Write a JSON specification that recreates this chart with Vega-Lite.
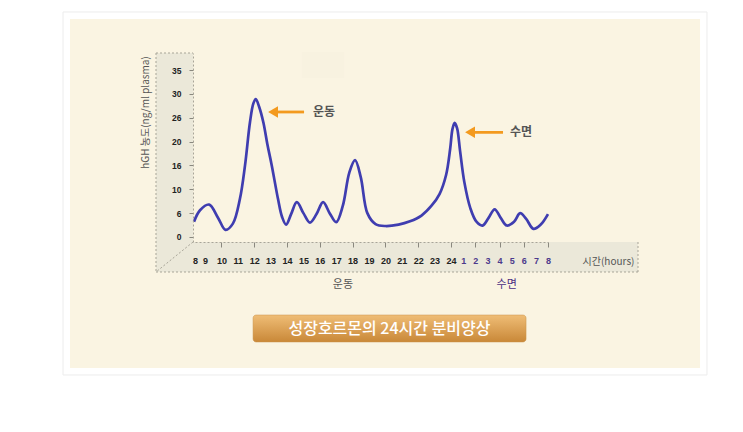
{
  "$schema": "https://vega.github.io/schema/vega-lite/v6.json",
  "width": 445,
  "height": 189,
  "autosize": {"type": "none"},
  "padding": {"left": 193, "top": 53, "right": 105, "bottom": 190},
  "background": "white",
  "config": {"view": {"stroke": null}, "font": "Noto Sans CJK KR"},
  "datasets": {
    "bg": [{"h": -5.2, "h2": 45.11, "v": 47.16, "v2": -28.92}],
    "panel": [{"h": -4.5, "h2": 44.54, "v": 45.69, "v2": -27.46}],
    "faint": [{"h": 14.91, "h2": 17.48, "v": 38.77, "v2": 33.32}],
    "panes": [
      {"h": 4.1, "h2": 7.8, "v": 38.563, "v2": -7.335},
      {"h": 7.8, "h2": 39.423, "v": -1.048, "v2": -7.335}
    ],
    "frame": [
      {"h": 4.1, "h2": 4.1, "v": 38.563, "v2": -7.335},
      {"h": 4.1, "h2": 7.8, "v": 38.563, "v2": 38.563},
      {"h": 4.1, "h2": 39.423, "v": -7.335, "v2": -7.335},
      {"h": 39.423, "h2": 39.423, "v": -1.048, "v2": -7.335},
      {"h": 7.8, "h2": 4.1, "v": -1.048, "v2": -7.335}
    ],
    "curve": [
      {"h": 7.9, "v": 3.2}, {"h": 8.5, "v": 5.6}, {"h": 9.25, "v": 6.8}, {"h": 9.8, "v": 4.0},
      {"h": 10.25, "v": 1.5}, {"h": 10.7, "v": 2.8}, {"h": 11.13, "v": 8.0}, {"h": 11.44, "v": 15.0},
      {"h": 11.74, "v": 24.0}, {"h": 11.95, "v": 28.0}, {"h": 12.1, "v": 28.9}, {"h": 12.3, "v": 27.3},
      {"h": 12.56, "v": 24.0}, {"h": 12.8, "v": 19.5}, {"h": 13.07, "v": 15.0}, {"h": 13.45, "v": 8.0},
      {"h": 13.7, "v": 4.2}, {"h": 13.95, "v": 2.6}, {"h": 14.25, "v": 4.8},
      {"h": 14.6, "v": 7.3}, {"h": 15.0, "v": 5.0}, {"h": 15.4, "v": 3.0}, {"h": 15.8, "v": 4.8},
      {"h": 16.2, "v": 7.3}, {"h": 16.6, "v": 5.0}, {"h": 17.0, "v": 3.1}, {"h": 17.4, "v": 6.5},
      {"h": 17.8, "v": 13.5}, {"h": 18.15, "v": 16.1}, {"h": 18.5, "v": 12.5}, {"h": 18.9, "v": 5.0},
      {"h": 19.4, "v": 2.7}, {"h": 20.0, "v": 2.3}, {"h": 20.8, "v": 2.6}, {"h": 21.5, "v": 3.3},
      {"h": 22.2, "v": 4.5}, {"h": 22.8, "v": 6.5}, {"h": 23.3, "v": 9.0}, {"h": 23.7, "v": 13.0},
      {"h": 23.95, "v": 18.5}, {"h": 24.12, "v": 22.6}, {"h": 24.3, "v": 23.9}, {"h": 24.5, "v": 22.8},
      {"h": 24.75, "v": 18.0}, {"h": 25.1, "v": 11.5},
      {"h": 25.6, "v": 6.0}, {"h": 26.1, "v": 3.2}, {"h": 26.6, "v": 2.4}, {"h": 27.1, "v": 4.0},
      {"h": 27.6, "v": 5.8}, {"h": 28.1, "v": 4.0}, {"h": 28.6, "v": 2.4}, {"h": 29.2, "v": 3.2},
      {"h": 29.7, "v": 5.0}, {"h": 30.2, "v": 3.8}, {"h": 30.8, "v": 1.7}, {"h": 31.4, "v": 2.6},
      {"h": 32.0, "v": 4.8}
    ],
    "arrows": [
      {"h": 13.15, "h2": 15.04, "v": 26.2, "v2": 26.2, "t": 15.59, "label": "운동"},
      {"h": 25.57, "h2": 28.29, "v": 21.94, "v2": 21.94, "t": 28.87, "label": "수면"}
    ],
    "below": [
      {"h": 17.41, "v": -10.06, "label": "운동", "kind": "ex"},
      {"h": 28.59, "v": -10.06, "label": "수면", "kind": "sleep"}
    ],
    "button": [{"h": 11.93, "h2": 30.19, "v": -16.35, "v2": -22.0, "c": 20.25, "m": -19.2, "label": "성장호르몬의 24시간 분비양상"}]
  },
  "encoding": {
    "x": {
      "field": "h",
      "type": "quantitative",
      "scale": {"domain": [8, 9, 24, 32], "range": [2, 12, 258, 355], "nice": false, "zero": false},
      "axis": {
        "values": [8, 9, 10, 11, 12, 13, 14, 15, 16, 17, 18, 19, 20, 21, 22, 23, 24, 25, 26, 27, 28, 29, 30, 31, 32],
        "labelExpr": "'' + (datum.value > 24 ? datum.value - 24 : datum.value)",
        "labelColor": {"condition": {"test": "datum.value > 24", "value": "#4b3a8c"}, "value": "#222222"},
        "tickOpacity": {"condition": {"test": "datum.value >= 10 && datum.value % 2 == 0", "value": 1}, "value": 0},
        "labelFont": "Liberation Sans",
        "labelFontWeight": "bold",
        "labelFontSize": 9,
        "labelPadding": 9,
        "labelFlush": false,
        "labelBound": false,
        "labelOverlap": false,
        "tickSize": 5,
        "tickColor": "#8a887e",
        "domainColor": "#a8a598",
        "domainDash": [2, 2],
        "grid": false,
        "zindex": 1,
        "title": "시간(hours)",
        "titleX": 415,
        "titleY": 19,
        "titleAlign": "center",
        "titleBaseline": "middle",
        "titleAngle": 0,
        "titleFontWeight": "normal",
        "titleFontSize": 10,
        "titleColor": "#555555",
        "titleFont": "Noto Sans CJK KR"
      }
    },
    "y": {
      "field": "v",
      "type": "quantitative",
      "scale": {"domain": [-1.048, 38.563], "nice": false, "zero": false},
      "axis": {
        "values": [0, 5, 10, 15, 20, 25, 30, 35],
        "labelExpr": "datum.value == 5 ? '6' : datum.value == 15 ? '16' : datum.value == 25 ? '26' : datum.label",
        "labelFont": "Liberation Sans",
        "labelFontWeight": "bold",
        "labelFontSize": 8.5,
        "labelColor": "#222222",
        "labelPadding": 8,
        "labelFlush": false,
        "labelBound": false,
        "tickSize": 4,
        "tickColor": "#8a887e",
        "domainColor": "#a8a598",
        "domainDash": [2, 2],
        "grid": false,
        "zindex": 1,
        "title": "hGH 농도(ng/ml plasma)",
        "titleX": -48,
        "titleY": 59,
        "titleAngle": -90,
        "titleAlign": "center",
        "titleBaseline": "middle",
        "titleFontWeight": "normal",
        "titleFontSize": 10,
        "titleColor": "#555555",
        "titleFont": "Noto Sans CJK KR"
      }
    }
  },
  "layer": [
    {"data": {"name": "bg"}, "mark": {"type": "rect", "fill": "#ffffff", "stroke": "#ececec", "strokeWidth": 1}, "encoding": {"x2": {"field": "h2"}, "y2": {"field": "v2"}}},
    {"data": {"name": "panel"}, "mark": {"type": "rect", "fill": "#faf4e2"}, "encoding": {"x2": {"field": "h2"}, "y2": {"field": "v2"}}},
    {"data": {"name": "faint"}, "mark": {"type": "rect", "fill": "#f8f2e0"}, "encoding": {"x2": {"field": "h2"}, "y2": {"field": "v2"}}},
    {"data": {"name": "panes"}, "mark": {"type": "rect", "fill": "#ebe8d9"}, "encoding": {"x2": {"field": "h2"}, "y2": {"field": "v2"}}},
    {"data": {"name": "frame"}, "mark": {"type": "rule", "stroke": "#a8a598", "strokeWidth": 1, "strokeDash": [2, 2]}, "encoding": {"x2": {"field": "h2"}, "y2": {"field": "v2"}}},
    {"data": {"name": "curve"}, "mark": {"type": "line", "interpolate": "catmull-rom", "stroke": "#3f3db0", "strokeWidth": 2.7}},
    {"data": {"name": "arrows"}, "mark": {"type": "rule", "stroke": "#f39a1f", "strokeWidth": 2.8}, "encoding": {"x2": {"field": "h2"}, "y2": {"field": "v2"}}},
    {"data": {"name": "arrows"}, "mark": {"type": "point", "shape": "triangle-left", "filled": true, "fill": "#f39a1f", "opacity": 1, "size": 130}},
    {"data": {"name": "arrows"}, "mark": {"type": "text", "align": "left", "baseline": "middle", "fontSize": 12, "fontWeight": "bold", "color": "#555555", "font": "Noto Sans CJK KR"}, "encoding": {"x": {"field": "t", "type": "quantitative"}, "text": {"field": "label"}}},
    {"data": {"name": "below"}, "mark": {"type": "text", "align": "center", "baseline": "middle", "fontSize": 11, "font": "Noto Sans CJK KR"}, "encoding": {"text": {"field": "label"}, "color": {"field": "kind", "type": "nominal", "scale": {"domain": ["ex", "sleep"], "range": ["#555555", "#4b2d83"]}, "legend": null}, "fontWeight": {"field": "kind", "type": "nominal", "scale": {"domain": ["ex", "sleep"], "range": ["normal", "bold"]}, "legend": null}}},
    {"data": {"name": "button"}, "mark": {"type": "rect", "cornerRadius": 3, "stroke": "#c9924a", "strokeWidth": 0.5, "fill": {"gradient": "linear", "x1": 0, "y1": 0, "x2": 0, "y2": 1, "stops": [{"offset": 0, "color": "#efbd76"}, {"offset": 1, "color": "#c98838"}]}}, "encoding": {"x2": {"field": "h2"}, "y2": {"field": "v2"}}},
    {"data": {"name": "button"}, "mark": {"type": "text", "align": "center", "baseline": "middle", "fontSize": 16, "color": "#ffffff", "font": "Noto Sans CJK KR", "fontWeight": 500}, "encoding": {"x": {"field": "c", "type": "quantitative"}, "y": {"field": "m", "type": "quantitative"}, "text": {"field": "label"}}}
  ]
}
